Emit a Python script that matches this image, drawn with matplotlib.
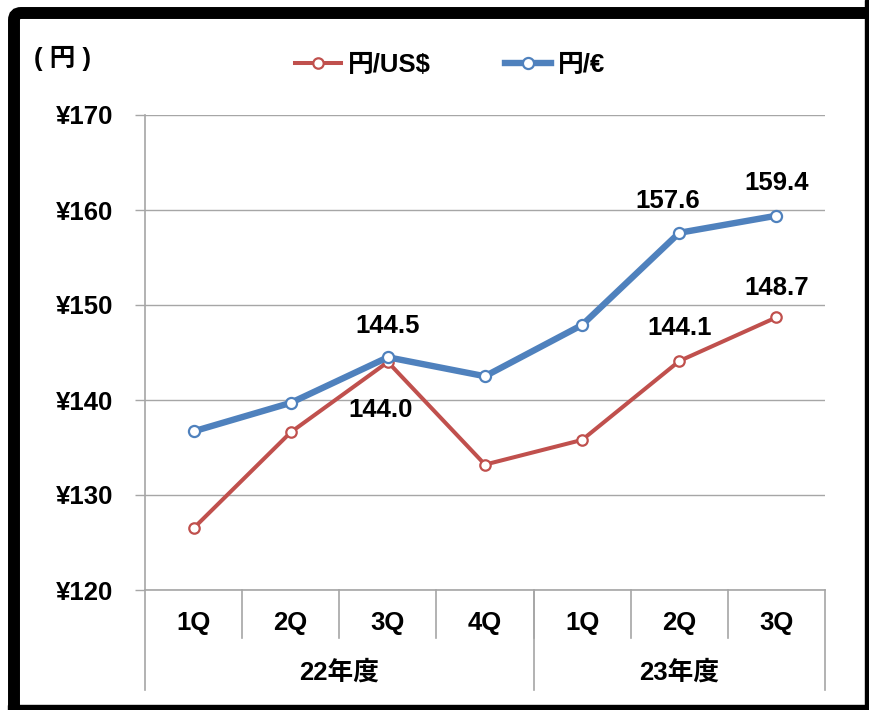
import matplotlib.pyplot as plt
from matplotlib.patches import FancyBboxPatch, Rectangle
from matplotlib.transforms import IdentityTransform

plt.rcParams['font.family'] = ['Liberation Sans', 'Noto Sans CJK JP', 'DejaVu Sans']
plt.rcParams['font.weight'] = 'bold'

quarters = ['1Q', '2Q', '3Q', '4Q', '1Q', '2Q', '3Q']
years = ['22年度', '23年度']
year_spans = [(0, 4), (4, 7)]
usd = [126.5, 136.6, 144.0, 133.2, 135.8, 144.1, 148.7]
eur = [136.7, 139.7, 144.5, 142.5, 147.9, 157.6, 159.4]
yticks = [120, 130, 140, 150, 160, 170]

# which points get a value label: (series, index, offset in px)
labels = [('eur', 2, (0, 31)), ('usd', 2, (-7, -48)), ('eur', 5, (-12, 32)),
          ('eur', 6, (0, 33)), ('usd', 6, (0, 29)), ('usd', 5, (0, 33))]

red = '#C0504D'
blue = '#4F81BD'
grid = '#A6A6A6'
fs = 18.5

fig = plt.figure(figsize=(8.7, 7.1), dpi=100)
ax = fig.add_axes([145 / 870, 1 - 590 / 710, 680 / 870, 475 / 710])

x = list(range(len(quarters)))
ax.plot(x, usd, color=red, lw=2.9, marker='o', ms=7.5, mfc='white', mec=red, mew=1.6,
        label='円/US$', zorder=3)
ax.plot(x, eur, color=blue, lw=4.6, marker='o', ms=8, mfc='white', mec=blue, mew=1.6,
        label='円/€', zorder=4)

series = {'usd': usd, 'eur': eur}
for name, i, off in labels:
    v = series[name][i]
    ax.annotate(f'{v:.1f}', (i, v), xytext=off, textcoords='offset pixels',
                ha='center', va='center', fontsize=fs, fontweight='bold', zorder=5)

ax.set_xlim(-0.5, len(quarters) - 0.5)
ax.set_ylim(yticks[0], yticks[-1])
ax.set_yticks(yticks)
ax.set_yticklabels([f'¥{t}' for t in yticks], fontsize=fs, fontweight='bold')
ax.tick_params(axis='y', length=7, color=grid, width=1, pad=16)
ax.set_xticks([])
ax.grid(axis='y', color=grid, lw=1)
for s in ['top', 'right']:
    ax.spines[s].set_visible(False)
ax.spines['left'].set_color(grid)
ax.spines['bottom'].set_color(grid)
ax.spines['left'].set_linewidth(1.2)
ax.spines['bottom'].set_linewidth(1.2)

# two-level category axis
tr = ax.get_xaxis_transform()
for i, q in enumerate(quarters):
    ax.text(i, -0.069, q, transform=tr, ha='center', va='center', fontsize=fs, fontweight='bold')
for b in range(1, len(quarters)):
    ax.plot([b - 0.5, b - 0.5], [0, -0.101], transform=tr, color=grid, lw=1.2, clip_on=False)
for (a, b), y in zip(year_spans, years):
    ax.text((a + b - 1) / 2, -0.173, y, transform=tr, ha='center', va='center',
            fontsize=fs, fontweight='bold')
for b in [0, 4, 7]:
    ax.plot([b - 0.5, b - 0.5], [0, -0.21], transform=tr, color=grid, lw=1.2, clip_on=False)

fig.text(34 / 870, 1 - 58 / 710, '( 円 )', ha='left', va='center', fontsize=fs, fontweight='bold')
fig.legend(loc='center', bbox_to_anchor=(0.517, 1 - 65 / 710), ncol=2, frameon=False,
           handlelength=1.8, columnspacing=2.9, handletextpad=0.25,
           prop={'weight': 'bold', 'size': fs})

# black picture frame: rounded top-left, straight edges cut at right/bottom
frame = FancyBboxPatch((14, -40), 900, 737, boxstyle='round,pad=0,rounding_size=7',
                       transform=IdentityTransform(), fill=False, ec='black', lw=8.6)
fig.add_artist(frame)
fig.add_artist(Rectangle((865, 0), 10, 710, transform=IdentityTransform(), color='black'))
fig.add_artist(Rectangle((8, -5), 870, 10, transform=IdentityTransform(), color='black'))

fig.savefig('out.png', dpi=100)
